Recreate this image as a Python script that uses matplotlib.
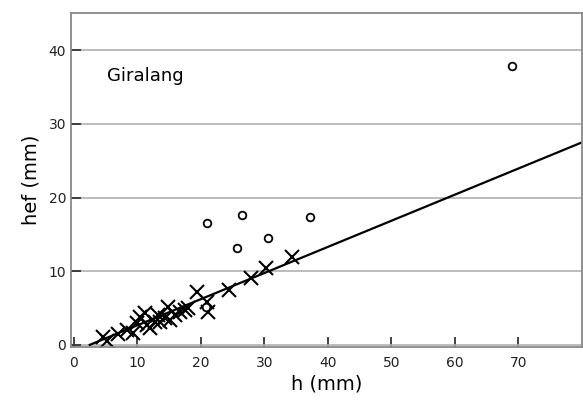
import matplotlib.pyplot as plt
import numpy as np

# crosses (x marker series)
cross_h = [4.6, 5.2, 7.0, 8.4, 9.3, 10.0, 10.4, 11.2, 11.5, 12.0, 12.8, 13.3, 13.6,
           14.4, 14.8, 15.1, 15.9, 16.7, 17.5, 18.0, 19.4, 21.0, 21.1, 24.4, 27.9,
           30.3, 34.4]
cross_hef = [1.1, 0.5, 1.5, 2.0, 1.6, 3.0, 3.8, 4.3, 2.7, 2.3, 3.1, 4.0, 3.1,
             3.6, 5.1, 3.4, 4.0, 4.5, 4.7, 5.0, 7.2, 5.8, 4.5, 7.4, 9.1,
             10.4, 11.9]

# open circles (outliers)
circle_h = [20.9, 21.0, 25.7, 26.5, 30.6, 37.2, 69.0]
circle_hef = [5.2, 16.5, 13.2, 17.6, 14.5, 17.3, 37.9]

# fitted line
fit_slope = 0.355
fit_intercept = -0.905
fit_x_range = [2.55, 80]

fig = plt.figure(figsize=(5.83, 4.03), dpi=100)
ax = fig.add_axes([0.1218, 0.1397, 0.8765, 0.827])

ax.set_axisbelow(True)
ax.grid(axis='y', color='#b0b0b0', linewidth=1.2)

fx = np.array(fit_x_range)
ax.plot(fx, fit_slope * fx + fit_intercept, color='black', linewidth=1.6)

ax.plot(cross_h, cross_hef, linestyle='none', marker='x', color='black',
        markersize=10, markeredgewidth=1.5)
ax.plot(circle_h, circle_hef, linestyle='none', marker='o', markerfacecolor='white',
        markeredgecolor='black', markersize=5.5, markeredgewidth=1.3)

ax.set_xlim(-0.4, 80)
ax.set_ylim(-0.25, 45)
ax.set_xticks(np.arange(0, 80, 10))
ax.set_yticks(np.arange(0, 50, 10))

for s in ax.spines.values():
    s.set_color('#888888')
    s.set_linewidth(1.3)

ax.tick_params(axis='both', direction='in', length=7, width=1.3, color='#333333',
               labelsize=10, labelcolor='#222222')
ax.tick_params(axis='x', pad=7)

ax.text(5.3, 36.5, 'Giralang', fontsize=13, va='center', ha='left')

ax.set_xlabel('h (mm)', fontsize=14, labelpad=3)
ax.set_ylabel('hef (mm)', fontsize=14, labelpad=6)

plt.savefig('out.png', dpi=100)
